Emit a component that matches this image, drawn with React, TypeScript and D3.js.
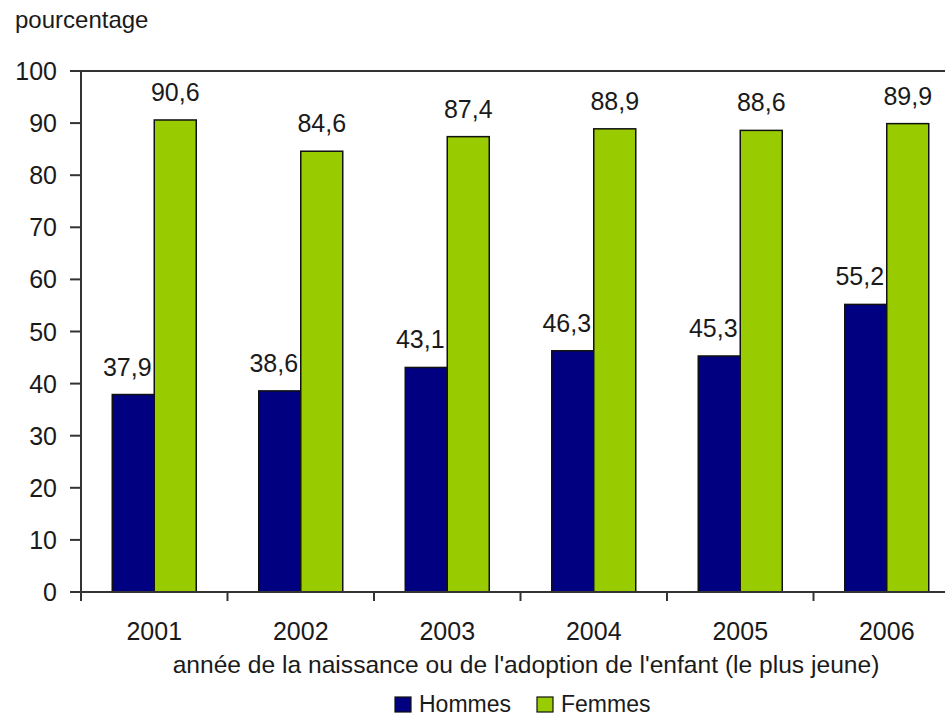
import React from "react";
import * as d3 from "d3";

const years = ["2001", "2002", "2003", "2004", "2005", "2006"];
const series = ["Hommes", "Femmes"];
const hommes = [37.9, 38.6, 43.1, 46.3, 45.3, 55.2];
const femmes = [90.6, 84.6, 87.4, 88.9, 88.6, 89.9];
const yTicks = [0, 10, 20, 30, 40, 50, 60, 70, 80, 90, 100];
const colors = ["#000080", "#99cc00"];

const W = 945;
const H = 717;
const font = "'Liberation Sans', Arial, sans-serif";
const ink = "#1a1a1a";

export default function App() {
  const left = 81;
  const right = 960; // plot frame runs past the picture edge
  const top = 71;
  const bottom = 592;

  const x0 = d3.scaleBand().domain(years).range([left, right]);
  const groupW = 84;
  const x1 = d3
    .scaleBand()
    .domain(series)
    .range([(x0.bandwidth() - groupW) / 2, (x0.bandwidth() + groupW) / 2]);
  const y = d3.scaleLinear().domain([0, 100]).range([bottom, top]);

  const values = [hommes, femmes];
  const fmt = (v: number) => v.toFixed(1).replace(".", ",");

  return (
    <svg
      width={W}
      height={H}
      style={{ position: "absolute", left: 0, top: 0, background: "#fff" }}
      fontFamily={font}
    >
      <text x={15} y={28} fontSize={24} fill={ink}>
        pourcentage
      </text>

      {/* frame top */}
      <line x1={left} x2={right} y1={top} y2={top} stroke="#333" strokeWidth={2} />

      {/* bars */}
      {years.map((yr, i) => (
        <g key={yr} transform={`translate(${x0(yr)},0)`}>
          {series.map((s, k) => {
            const v = values[k][i];
            const bx = x1(s)!;
            const bw = x1.bandwidth();
            return (
              <g key={s}>
                <rect
                  x={bx}
                  y={y(v)}
                  width={bw}
                  height={y(0) - y(v)}
                  fill={colors[k]}
                  stroke="#111"
                  strokeWidth={1.5}
                />
                <text
                  x={bx + bw / 2 + (k === 0 ? -6 : 0)}
                  y={y(v) - 19}
                  textAnchor="middle"
                  fontSize={25}
                  fill={ink}
                >
                  {fmt(v)}
                </text>
              </g>
            );
          })}
        </g>
      ))}

      {/* y axis */}
      <line x1={left} x2={left} y1={top} y2={bottom} stroke="#333" strokeWidth={2} />
      {yTicks.map((t) => (
        <g key={t}>
          <line x1={left - 11} x2={left} y1={y(t)} y2={y(t)} stroke="#333" strokeWidth={2} />
          <text x={left - 24} y={y(t)} dy="0.36em" textAnchor="end" fontSize={25} fill={ink}>
            {t}
          </text>
        </g>
      ))}

      {/* x axis */}
      <line x1={left} x2={right} y1={bottom} y2={bottom} stroke="#333" strokeWidth={2} />
      {[...years.map((yr) => x0(yr)!), right].map((bx, i) => (
        <line key={i} x1={bx} x2={bx} y1={bottom} y2={bottom + 9} stroke="#333" strokeWidth={2} />
      ))}
      {years.map((yr) => (
        <text
          key={yr}
          x={x0(yr)! + x0.bandwidth() / 2}
          y={640}
          textAnchor="middle"
          fontSize={25}
          fill={ink}
        >
          {yr}
        </text>
      ))}
      <text x={526} y={673} textAnchor="middle" fontSize={24.6} fill={ink}>
        année de la naissance ou de l'adoption de l'enfant (le plus jeune)
      </text>

      {/* legend */}
      {series.map((s, k) => {
        const lx = k === 0 ? 395 : 537;
        return (
          <g key={s}>
            <rect x={lx} y={697} width={16} height={15} fill={colors[k]} stroke="#111" strokeWidth={1.2} />
            <text x={lx + 24} y={712} fontSize={23} fill={ink}>
              {s}
            </text>
          </g>
        );
      })}
    </svg>
  );
}
